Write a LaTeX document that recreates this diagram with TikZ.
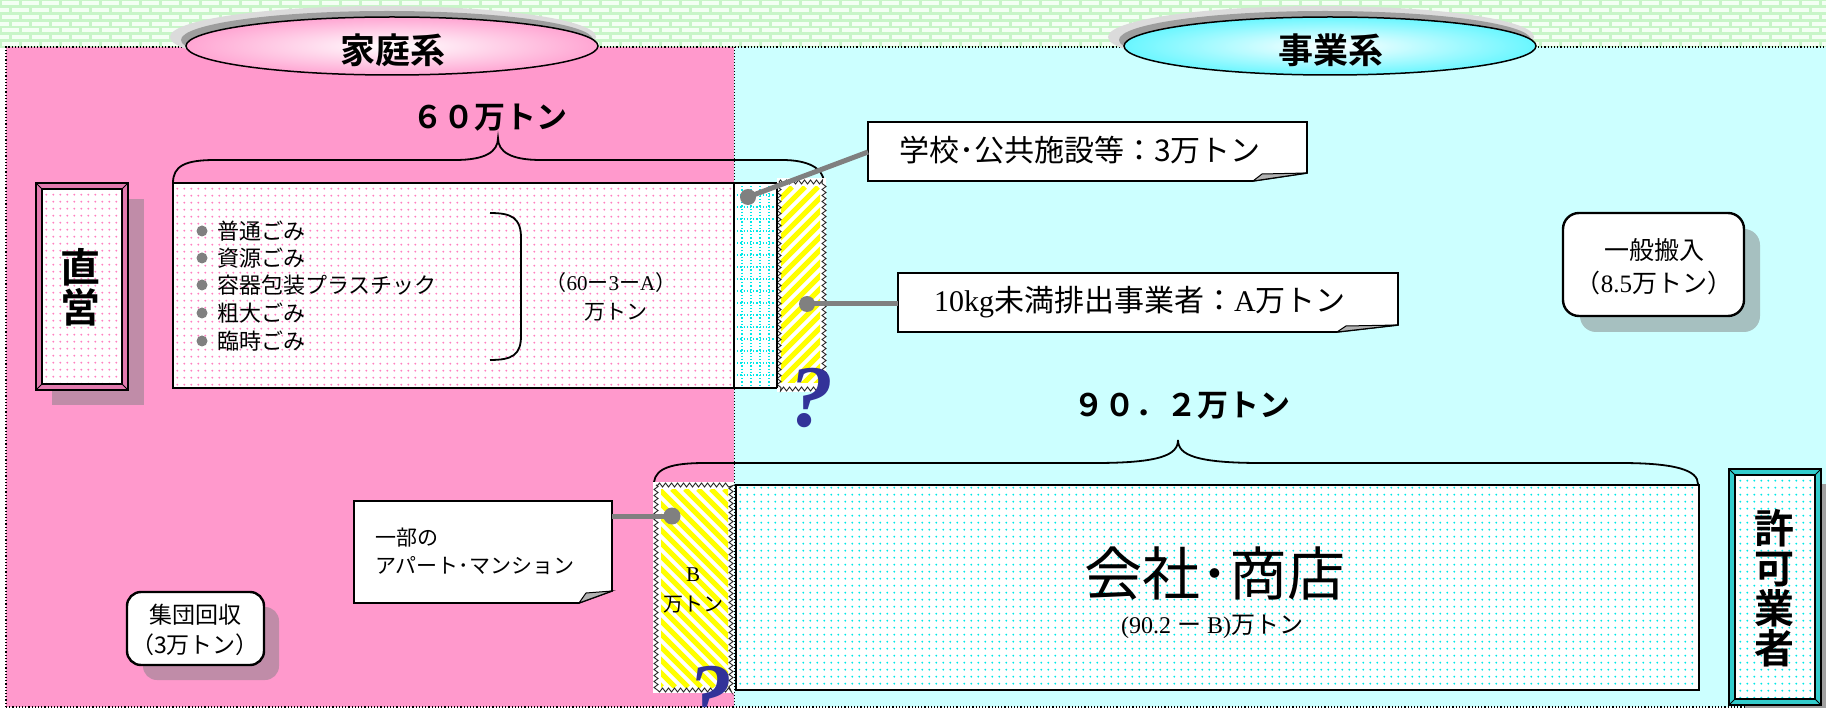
\documentclass[tikz,border=0pt]{standalone}
\usepackage{fontspec}
\setmainfont{Liberation Serif}
\newfontfamily\jp{Noto Sans CJK JP}
\newfontfamily\jpb{Noto Sans CJK JP Bold}
\usetikzlibrary{decorations.pathmorphing,patterns.meta}
\definecolor{pinkbg}{HTML}{FF99CC}
\definecolor{cyanbg}{HTML}{CCFFFF}
\definecolor{mortar}{HTML}{C8F5C8}
\definecolor{brick}{HTML}{F4FFF4}
\definecolor{pdot}{HTML}{FF80C0}
\definecolor{cdot}{HTML}{00E8E8}
\definecolor{conn}{HTML}{808080}
\definecolor{qblue}{HTML}{333399}
\definecolor{pshadow}{HTML}{C08CA8}
\definecolor{tshadow}{HTML}{A6C0C0}
\definecolor{gshadow}{HTML}{A0A0A0}
\definecolor{pband}{HTML}{E27AAE}
\definecolor{tband}{HTML}{33CCCC}
\definecolor{stripe}{HTML}{FFFF00}
\definecolor{hpink}{HTML}{FF66B3}
\definecolor{hcyan}{HTML}{00F0FF}
\tikzdeclarepattern{name=dotgrid, type=uncolored,
  bounding box={(0pt,0pt) and (7.3pt,7.3pt)}, tile size={(7.3pt,7.3pt)},
  code={\pgfpathcircle{\pgfqpoint{3.6pt}{3.6pt}}{1.1pt}\pgfusepath{fill}}}
\newcommand\fsz[1]{\fontsize{#1}{#1}\selectfont}
\begin{document}
\begin{tikzpicture}[x=1pt,y=-1pt,
  txt/.style={inner sep=0pt, text=black},
  bracestyle/.style={draw=black, line width=1.8pt},
  boxline/.style={draw=black, line width=2pt},
  calloutbox/.style={draw=black, line width=1.6pt, fill=white},
  foldstyle/.style={draw=black, line width=1pt, fill=black!30},
  connline/.style={draw=conn, line width=5pt},
  conndot/.style={fill=conn},
  roundbox/.style={draw=black, line width=2.4pt, fill=white, rounded corners=16pt},
  zig/.style={decorate, decoration={zigzag, segment length=6pt, amplitude=2pt}, draw=black!85, line width=0.9pt},
  ques/.style={text=qblue, font=\bfseries\itshape\fsz{88}, inner sep=0pt},
  gridln/.style={draw=cdot, dotted, line width=1.2pt},
]
\useasboundingbox (0,0) rectangle (1826,708);
\clip (0,0) rectangle (1826,708);
% brick band
\fill[mortar] (0,0) rectangle (1826,48);
\foreach \r in {0,...,6}{
  \pgfmathsetmacro\yy{\r*6.75}
  \pgfmathsetmacro\off{mod(\r,2)*10}
  \foreach \c in {-1,...,91}{
    \fill[brick] ({\c*20+\off+1.5},{\yy+1.3}) rectangle ({\c*20+\off+18.5},{\yy+5.4});
  }
}
% regions
\fill[pinkbg] (6,47) rectangle (734,707);
\fill[cyanbg] (734,47) rectangle (1826,707);
\draw[dotted, line width=1.2pt] (6,707) -- (6,47) -- (1826,47);
\draw[dotted, line width=1pt] (734,47) -- (734,707);
\draw[dotted, line width=1.2pt] (6,707) -- (1826,707);

% header ellipses
\fill[black!14] (383,37) ellipse [x radius=213, y radius=31];
\fill[black!38] (387,40) ellipse [x radius=206, y radius=29];
\begin{scope}
  \clip (392,46) ellipse [x radius=206, y radius=29];
  \shade[inner color=white, outer color=hpink] (42,-4) rectangle (742,96);
\end{scope}
\draw[black, line width=1.5pt] (392,46) ellipse [x radius=206, y radius=29];
\node[txt, font=\jpb\fsz{35}] (katei) at (393,50) {家庭系};
\fill[black!14] (1321,37) ellipse [x radius=213, y radius=31];
\fill[black!38] (1325,40) ellipse [x radius=206, y radius=29];
\begin{scope}
  \clip (1330,46) ellipse [x radius=206, y radius=29];
  \shade[inner color=white, outer color=hcyan] (980,-4) rectangle (1680,96);
\end{scope}
\draw[black, line width=1.5pt] (1330,46) ellipse [x radius=206, y radius=29];
\node[txt, font=\jpb\fsz{35}] (jigyo) at (1331,50) {事業系};

% totals
\node[txt, font=\jpb\fsz{31}] (t60) at (490,118) {６０万トン};
\node[txt, font=\jpb\fsz{31}] (t902) at (1182,406) {９０．２万トン};

% household brace
\draw[bracestyle] (173,183) .. controls (173,166) and (185,160) .. (215,160) -- (455,160) .. controls (485,160) and (498,152) .. (498,138) .. controls (498,152) and (511,160) .. (541,160) -- (782,160) .. controls (808,160) and (823,168) .. (824,182);
% company brace
\draw[bracestyle] (654,482) .. controls (656,468) and (672,463) .. (705,463) -- (1095,463) .. controls (1160,463) and (1178,455) .. (1178,440) .. controls (1178,455) and (1196,463) .. (1261,463) -- (1620,463) .. controls (1675,463) and (1698,470) .. (1698,484);

% chokuei frame
\fill[pshadow] (52,199) rectangle (144,405);
\fill[pband] (36,183) rectangle (128,390);
\fill[white] (42,189) rectangle (122,384);
\fill[pattern=dotgrid, pattern color=pdot] (42,189) rectangle (122,384);
\draw[line width=2.2pt] (36,183) rectangle (128,390);
\draw[line width=1.2pt] (42,189) rectangle (122,384);
\draw[line width=1pt] (36,183)--(42,189) (128,183)--(122,189) (36,390)--(42,384) (128,390)--(122,384);
\node[txt, font=\jpb\fsz{40}, align=center] (chokuei) at (80,287) {\fontsize{40}{42}\selectfont 直\\営};

% kyoka frame
\fill[gshadow] (1745,484) rectangle (1840,725);
\fill[tband] (1729,469) rectangle (1821,705);
\fill[white] (1735,475) rectangle (1815,699);
\fill[pattern=dotgrid, pattern color=cdot] (1735,475) rectangle (1815,699);
\draw[line width=2.2pt] (1729,469) rectangle (1821,705);
\draw[line width=1.2pt] (1735,475) rectangle (1815,699);
\draw[line width=1pt] (1729,469)--(1735,475) (1821,469)--(1815,475) (1729,705)--(1735,699) (1821,705)--(1815,699);
\node[txt, font=\jpb\fsz{40}, align=center] (kyoka) at (1774,588) {\fontsize{40}{42}\selectfont 許\\可\\業\\者};

% household box
\fill[white] (173,183) rectangle (734,388);
\fill[pattern=dotgrid, pattern color=pdot] (173,183) rectangle (734,388);
\draw[boxline] (173,183) rectangle (734,388);
\foreach \yy/\tt [count=\i] in {231/普通ごみ, 258/資源ごみ, 285/容器包装プラスチック, 313/粗大ごみ, 341/臨時ごみ}{
  \fill[conn] (202,\yy) circle (5.5);
  \node[txt, anchor=west, font=\jp\fsz{22}] (item\i) at (217,\yy) {\tt};
}
\draw[line width=1.8pt] (490,213) .. controls (512,213) and (521,218) .. (521,238) -- (521,336) .. controls (521,355) and (512,360) .. (490,360);
\node[txt, font=\fsz{21}] (formula) at (611,283) {{\jp （}60{\jp ー}3{\jp ー}A{\jp ）}};
\node[txt, font=\jp\fsz{21}] (formulau) at (616,312) {万トン};

% grid box (schools)
\fill[white] (734,183) rectangle (777,388);
\foreach \gx in {742,751,...,775} \draw[gridln] (\gx,183) -- (\gx,388);
\foreach \gy in {195,207,...,386} \draw[gridln] (734,\gy) -- (777,\gy);
\draw[boxline] (734,183) rectangle (777,388);

% A box
\fill[white] (777,178) rectangle (826,392);
\begin{scope}
  \clip (781,187) rectangle (820,383);
  \foreach \k in {0,...,20}{ \draw[stripe, line width=5pt] ({581+\k*13},385) -- ({779+\k*13},187); }
\end{scope}
\draw[zig] (779,182) rectangle (824,389);
\draw[boxline] (777,183) -- (777,388);

% B box
\fill[white] (653,482) rectangle (734,693);
\begin{scope}
  \clip (661,489) rectangle (728,687);
  \foreach \k in {0,...,22}{ \draw[stripe, line width=5pt] ({464+\k*13},489) -- ({662+\k*13},687); }
\end{scope}
\draw[zig] (656,485) rectangle (731,690);
\node[txt, font=\fsz{21}] (bval) at (693,575) {B};
\node[txt, font=\jp\fsz{20}] (bunit) at (693,605) {万トン};

% company box
\fill[white] (736,485) rectangle (1699,690);
\fill[pattern=dotgrid, pattern color=cdot] (736,485) rectangle (1699,690);
\draw[boxline] (736,485) rectangle (1699,690);
\node[txt, font=\jp\fsz{58}] (kaisha) at (1215,574) {会社･商店};
\node[txt, font=\fsz{24}] (kaishaval) at (1212,627) {(90.2 {\jp ー} B){\jp 万トン}};

% callout schools
\path[calloutbox] (868,122) -- (1307,122) -- (1307,173) -- (1253,181) -- (868,181) -- cycle;
\path[foldstyle] (1253,181) -- (1262,174) -- (1307,173) -- cycle;
\node[txt, font=\jp\fsz{30}] (gakko) at (1080,150) {学校･公共施設等：3万トン};
\coordinate (gdot) at (748,197);
\coordinate (gend) at (868,152);
\draw[connline] (gdot) -- (gend);
\fill[conndot] (gdot) circle (8);

% callout small business
\path[calloutbox] (898,273) -- (1398,273) -- (1398,325) -- (1337,332) -- (898,332) -- cycle;
\path[foldstyle] (1337,332) -- (1346,326) -- (1398,325) -- cycle;
\node[txt, font=\fsz{30}] (small) at (1140,302) {10kg{\jp 未満排出事業者：}A{\jp 万トン}};
\coordinate (adot) at (807,304);
\coordinate (aend) at (898,304);
\draw[connline] (adot) -- (aend);
\fill[conndot] (adot) circle (8);

% callout apartments
\path[calloutbox] (354,501) -- (612,501) -- (612,591) -- (579,603) -- (354,603) -- cycle;
\path[foldstyle] (579,603) -- (586,593) -- (612,591) -- cycle;
\node[txt, anchor=west, font=\jp\fsz{21}] (apt1) at (375,538) {一部の};
\node[txt, anchor=west, font=\jp\fsz{21}] (apt2) at (375,566) {アパート･マンション};
\coordinate (bdot) at (672,516);
\coordinate (bend) at (612,516);
\draw[connline] (bend) -- (bdot);
\fill[conndot] (bdot) circle (8.5);

% general carry-in
\fill[tshadow, rounded corners=16pt] (1580,229) rectangle (1760,332);
\path[roundbox] (1563,213) rectangle (1744,316);
\node[txt, font=\jp\fsz{25}] (ippan1) at (1654,250) {一般搬入};
\node[txt, font=\fsz{25}] (ippan2) at (1654,283) {{\jp （}8.5{\jp 万トン）}};

% group collection
\fill[pshadow, rounded corners=14pt] (143,607) rectangle (279,680);
\path[roundbox, rounded corners=14pt] (127,592) rectangle (264,665);
\node[txt, font=\jp\fsz{23}] (shudan1) at (195,615) {集団回収};
\node[txt, font=\jp\fsz{23}] (shudan2) at (195,645) {（3万トン）};

% question marks
\node[ques] (q1) at (811,398) {?};
\node[ques] (q2) at (710,696) {?};
\end{tikzpicture}
\end{document}
